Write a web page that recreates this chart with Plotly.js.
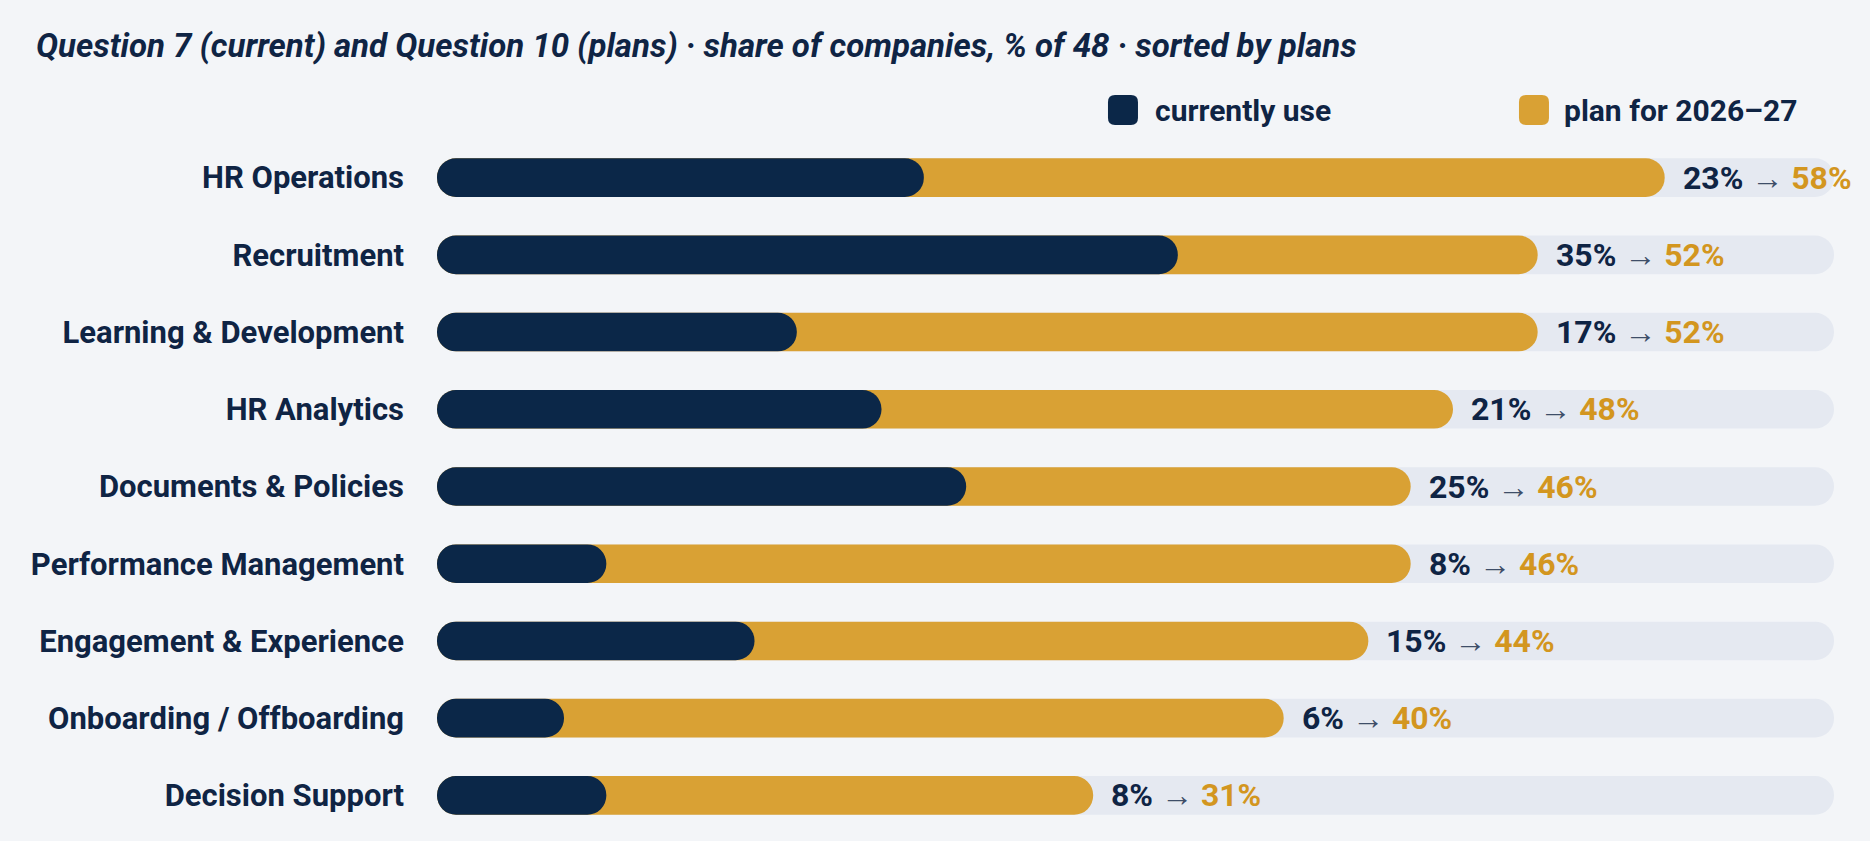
<!DOCTYPE html>
<html>
<head>
<meta charset="utf-8">
<script src="https://cdn.plot.ly/plotly-3.0.1.min.js"></script>
<style>
  html, body { margin: 0; padding: 0; background: #f3f5f8; }
  #chart { width: 1870px; height: 841px; }
</style>
</head>
<body>
<div id="chart"></div>
<script>
const categories = [
  "HR Operations",
  "Recruitment",
  "Learning & Development",
  "HR Analytics",
  "Documents & Policies",
  "Performance Management",
  "Engagement & Experience",
  "Onboarding / Offboarding",
  "Decision Support",
];
const currentUse = [23, 35, 17, 21, 25, 8, 15, 6, 8];
const planFor2026 = [58, 52, 52, 48, 46, 46, 44, 40, 31];
const trackMax = 66;

const NAVY = "#0b2748";
const GOLD = "#d9a134";
const GOLD_TEXT = "#d3961f";
const TRACK = "#e5e9f1";
const INK = "#0f2444";
const FONT = "Roboto, Liberation Sans, sans-serif";

// an explicit base makes plotly round both ends of the bar
function pill(values, color, name) {
  return {
    type: "bar",
    orientation: "h",
    y: categories,
    x: values,
    base: values.map(() => 0),
    width: 0.5,
    marker: { color, cornerradius: "50%", line: { width: 0 } },
    name,
    showlegend: false,
    hoverinfo: "skip",
  };
}

const data = [
  pill(categories.map(() => trackMax), TRACK, "track"),
  pill(planFor2026, GOLD, "plan for 2026–27"),
  pill(currentUse, NAVY, "currently use"),
];

const valueLabels = categories.map((cat, i) => ({
  x: planFor2026[i],
  y: cat,
  xref: "x",
  yref: "y",
  xanchor: "left",
  yanchor: "middle",
  xshift: 16,
  showarrow: false,
  text:
    `<b>${currentUse[i]}%</b> <span style="color:#3e4e68">→</span> ` +
    `<b><span style="color:${GOLD_TEXT}">${planFor2026[i]}%</span></b>`,
  font: { family: FONT, size: 32, color: INK },
}));

function swatch(xFrac, color) {
  return {
    type: "path",
    xref: "paper",
    yref: "paper",
    xsizemode: "pixel",
    ysizemode: "pixel",
    xanchor: xFrac,
    yanchor: 1.0417,
    path: "M0,-8 Q0,-15 7,-15 L23,-15 Q30,-15 30,-8 L30,8 Q30,15 23,15 L7,15 Q0,15 0,8 Z",
    fillcolor: color,
    line: { width: 0 },
  };
}

const legendTexts = [
  { x: 0.5125, text: "currently use" },
  { x: 0.8053, text: "plan for 2026–27" },
].map((d) => ({
  x: d.x,
  y: 1.0417,
  xref: "paper",
  yref: "paper",
  xanchor: "left",
  yanchor: "middle",
  showarrow: false,
  text: d.text,
  font: { family: FONT, size: 30, color: INK, weight: "bold" },
}));

const layout = {
  width: 1870,
  height: 841,
  paper_bgcolor: "#f3f5f8",
  plot_bgcolor: "#f3f5f8",
  barmode: "overlay",
  margin: { l: 437, r: 36, t: 139, b: 7 },
  font: { family: FONT, color: INK },
  title: {
    text: "Question 7 (current) and Question 10 (plans) · share of companies, % of 48 · sorted by plans",
    x: 36 / 1870,
    xanchor: "left",
    xref: "container",
    y: 1 - 45 / 841,
    yanchor: "middle",
    yref: "container",
    font: { family: FONT, size: 33, color: INK, weight: "bold", style: "italic" },
  },
  xaxis: {
    range: [0, trackMax],
    visible: false,
    fixedrange: true,
  },
  yaxis: {
    autorange: "reversed",
    showgrid: false,
    zeroline: false,
    showline: false,
    ticks: "",
    ticklabelstandoff: 32,
    tickfont: { family: FONT, size: 31, color: INK, weight: "bold" },
    fixedrange: true,
  },
  shapes: [swatch(0.4803, NAVY), swatch(0.7745, GOLD)],
  annotations: [...valueLabels, ...legendTexts],
  showlegend: false,
};

Plotly.newPlot("chart", data, layout, { staticPlot: true, displayModeBar: false });
</script>
</body>
</html>
